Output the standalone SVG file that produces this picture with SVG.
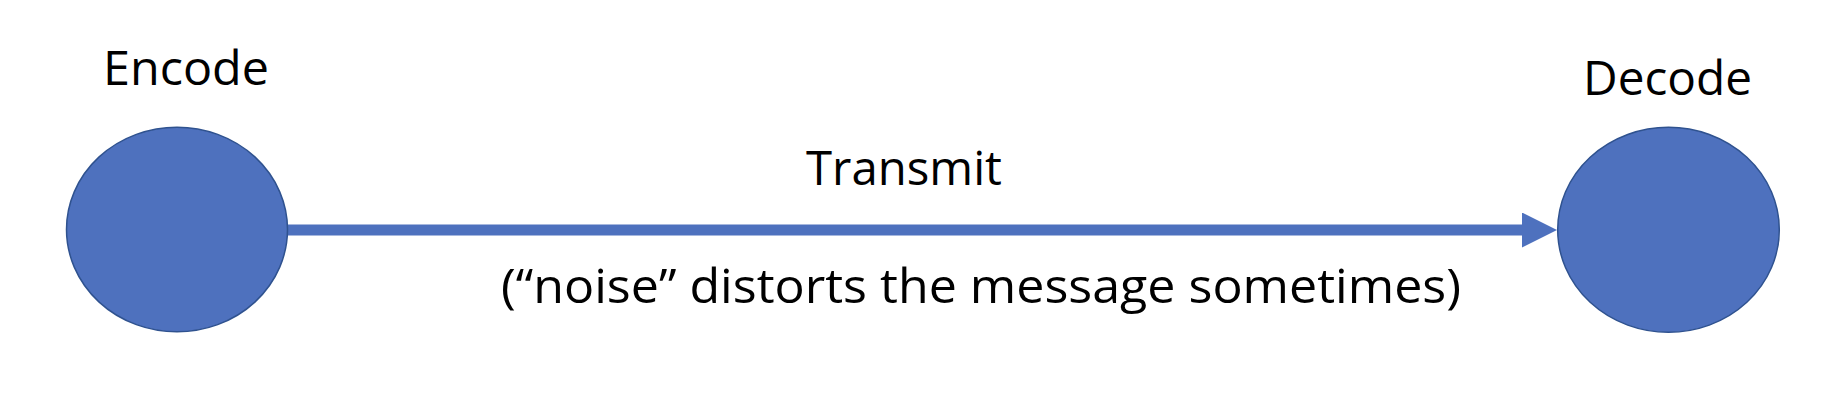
<svg xmlns="http://www.w3.org/2000/svg" width="1834" height="402" viewBox="0 0 1834 402">
  <style>
    .node { fill: #4E71BE; stroke: #2F528F; stroke-width: 1.5; }
    .label { font-family: "Open Sans", "Liberation Sans", sans-serif; font-size: 47px; fill: #000000; }
    .conn { stroke: #4E71BE; stroke-width: 11; fill: none; }
  </style>
  <defs>
    <marker id="arrow" markerUnits="userSpaceOnUse" viewBox="0 0 35 35" markerWidth="35" markerHeight="35" refX="0" refY="17.5" orient="auto">
      <path d="M0,0 L35,17.5 L0,35 z" fill="#4E71BE"/>
    </marker>
  </defs>
  <rect width="1834" height="402" fill="#ffffff"/>
  <g id="connectors">
    <line class="conn" x1="288" y1="230" x2="1522" y2="230" marker-end="url(#arrow)"/>
    <text class="label" x="806" y="185" textLength="196" lengthAdjust="spacingAndGlyphs">Transmit</text>
    <text class="label" x="501" y="303" textLength="960" lengthAdjust="spacingAndGlyphs">(“noise” distorts the message sometimes)</text>
  </g>
  <g id="encode">
    <ellipse class="node" cx="177" cy="229.5" rx="110.5" ry="102.3"/>
    <text class="label" x="103" y="85" textLength="166" lengthAdjust="spacingAndGlyphs">Encode</text>
  </g>
  <g id="decode">
    <ellipse class="node" cx="1668.5" cy="229.8" rx="110.8" ry="102.5"/>
    <text class="label" x="1583" y="95" textLength="169" lengthAdjust="spacingAndGlyphs">Decode</text>
  </g>
</svg>
